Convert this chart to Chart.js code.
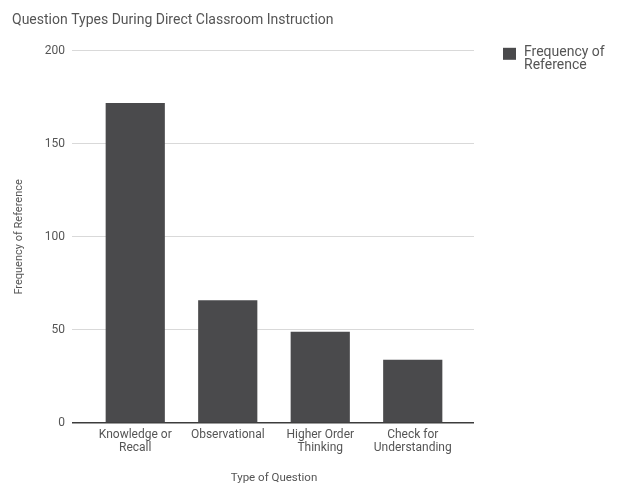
<!DOCTYPE html>
<html>
<head>
<meta charset="utf-8">
<script src="https://cdn.jsdelivr.net/npm/chart.js@4.4.1/dist/chart.umd.min.js"></script>
<style>
  html, body { margin: 0; padding: 0; background: #fff; }
  #wrap { width: 619px; height: 487px; position: relative; }
</style>
</head>
<body>
<div id="wrap"><canvas id="chart"></canvas></div>
<script>
// Data
const chartTitle = 'Question Types During Direct Classroom Instruction';
const categories = [
  ['Knowledge or', 'Recall'],
  'Observational',
  ['Higher Order', 'Thinking'],
  ['Check for', 'Understanding']
];
const seriesName = 'Frequency of Reference';
const frequencies = [172, 66, 49, 34];
const yTicks = [0, 50, 100, 150, 200];
const xAxisTitle = 'Type of Question';
const yAxisTitle = 'Frequency of Reference';

// Styling
const FONT = 'Roboto, "Noto Sans", Arial, sans-serif';
const BAR = '#4a4a4c';
const GRID = '#d9d9d9';
const BASE = '#3c3c3c';
const TEXT = '#555555';

const gridColor = c => (c.tick && c.tick.value === 0 ? BASE : GRID);
const gridWidth = c => (c.tick && c.tick.value === 0 ? 1.5 : 1);
const fixedTicks = scale => { scale.ticks = yTicks.map(v => ({ value: v })); };

// Legend drawn to the right of the plot, with the label wrapped over lines
const sideLegend = {
  id: 'sideLegend',
  afterDraw(chart) {
    const { ctx, chartArea } = chart;
    const ds = chart.data.datasets[0];
    const boxX = chartArea.right + 44;
    const boxY = chartArea.top - 3;
    ctx.save();
    ctx.fillStyle = ds.backgroundColor;
    ctx.fillRect(boxX, boxY, 13, 12);
    ctx.font = '14px ' + FONT;
    ctx.fillStyle = TEXT;
    ctx.textBaseline = 'middle';
    ctx.textAlign = 'left';
    const words = ds.label.split(' ');
    const lines = [];
    let line = '';
    for (const w of words) {
      const test = line ? line + ' ' + w : w;
      if (line && ctx.measureText(test).width > 92) { lines.push(line); line = w; }
      else line = test;
    }
    if (line) lines.push(line);
    lines.forEach((t, i) => ctx.fillText(t, boxX + 21, boxY + 5 + i * 13));
    ctx.restore();
  }
};

new Chart(document.getElementById('chart'), {
  type: 'bar',
  data: {
    labels: categories,
    datasets: [{
      label: seriesName,
      data: frequencies,
      backgroundColor: BAR,
      borderWidth: 0,
      categoryPercentage: 1,
      barPercentage: 0.64
    }]
  },
  plugins: [sideLegend],
  options: {
    responsive: true,
    maintainAspectRatio: false,
    animation: false,
    devicePixelRatio: 1,
    layout: { padding: { left: 12, right: 145, top: 0, bottom: 0 } },
    plugins: {
      legend: { display: false },
      tooltip: { enabled: false },
      title: {
        display: true,
        text: chartTitle,
        align: 'start',
        color: TEXT,
        font: { family: FONT, size: 14, weight: 'normal' },
        padding: { top: 12, bottom: 22 }
      }
    },
    scales: {
      x: {
        grid: { display: false, drawTicks: false },
        border: { display: false },
        ticks: {
          color: TEXT,
          font: { family: FONT, size: 12, lineHeight: 1.05 },
          padding: 6,
          maxRotation: 0,
          autoSkip: false
        },
        title: {
          display: true,
          text: xAxisTitle,
          color: TEXT,
          font: { family: FONT, size: 11.5 },
          padding: { top: 0, bottom: 2 }
        },
        afterFit: s => { s.height = 64; }
      },
      y: {
        min: 0,
        max: 200,
        afterBuildTicks: fixedTicks,
        border: { display: false },
        grid: { color: gridColor, lineWidth: gridWidth, tickLength: 17, drawTicks: true },
        ticks: {
          color: TEXT,
          font: { family: FONT, size: 12 },
          padding: 7
        },
        title: {
          display: true,
          text: yAxisTitle,
          color: TEXT,
          font: { family: FONT, size: 11 },
          padding: { top: 1, bottom: 0 }
        },
        afterFit: s => { s.width = 77; }
      },
      y2: {
        position: 'right',
        min: 0,
        max: 200,
        afterBuildTicks: fixedTicks,
        border: { display: false },
        grid: { color: gridColor, lineWidth: gridWidth, tickLength: 15, drawTicks: true, drawOnChartArea: false },
        ticks: { display: false },
        afterFit: s => { s.width = 15; }
      }
    }
  }
});
</script>
</body>
</html>
